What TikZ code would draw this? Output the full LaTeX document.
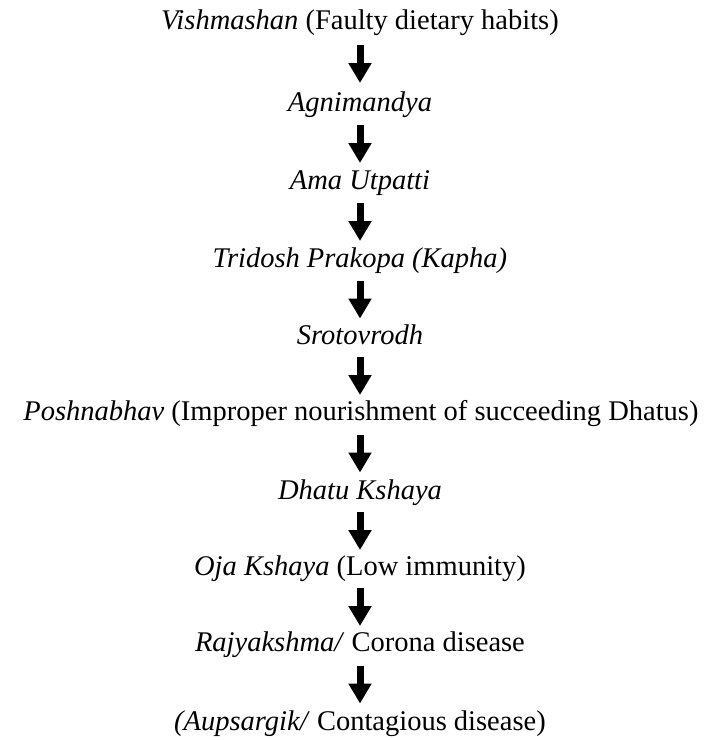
\documentclass[tikz,border=0pt]{standalone}
\usepackage{fontspec}
\setmainfont{Liberation Serif}
\usetikzlibrary{arrows.meta,calc}
\begin{document}
\begin{tikzpicture}[x=1pt,y=-1pt,
  lbl/.style={inner sep=0pt,anchor=base,font=\fontsize{28.5}{32}\selectfont},
  bigarrow/.style={line width=7pt,-{Triangle[width=22pt,length=20pt]}}]
\useasboundingbox (0,0) rectangle (709,740);
\node[lbl] (n1) at (360,29) {\textit{Vishmashan} (Faulty dietary habits)};
\node[lbl] (n2) at (360,111) {\textit{Agnimandya}};
\node[lbl] (n3) at (360,189) {\textit{Ama Utpatti}};
\node[lbl] (n4) at (360,267) {\textit{Tridosh Prakopa (Kapha)}};
\node[lbl] (n5) at (360,344) {\textit{Srotovrodh}};
\node[lbl] (n6) at (361,420) {\textit{Poshnabhav} (Improper nourishment of succeeding Dhatus)};
\node[lbl] (n7) at (360,499) {\textit{Dhatu Kshaya}};
\node[lbl] (n8) at (360,575) {\textit{Oja Kshaya} (Low immunity)};
\node[lbl] (n9) at (360,651) {\textit{Rajyakshma/} Corona disease};
\node[lbl] (n10) at (360,730) {\textit{(Aupsargik/} Contagious disease)};
\foreach \a/\b in {n1/n2,n2/n3,n3/n4,n4/n5,n5/n6,n6/n7,n7/n8,n8/n9,n9/n10}
  \draw[bigarrow] ($(\a.base)!0.5!(\b.base)$) coordinate (m)
    ($(m -| 360,0)+(0,-25)$) -- ($(m -| 360,0)+(0,13)$);
\end{tikzpicture}
\end{document}
